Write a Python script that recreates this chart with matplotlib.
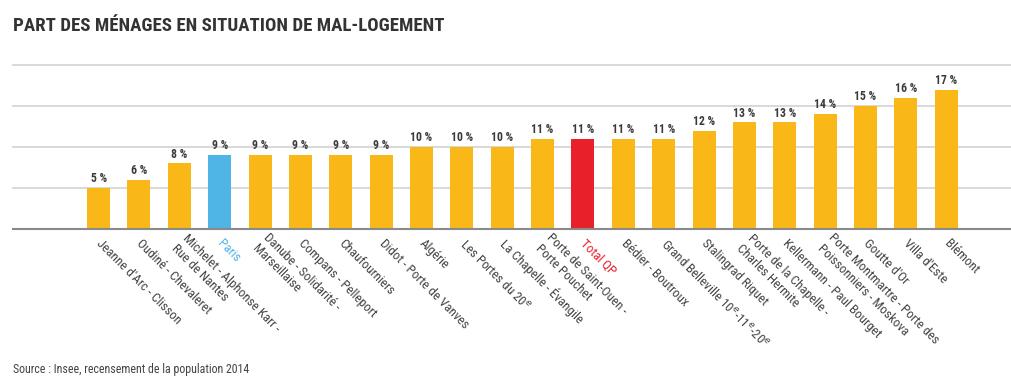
import matplotlib
matplotlib.use("Agg")
import matplotlib.pyplot as plt

plt.rcParams['font.family'] = ['Roboto Condensed', 'Roboto', 'DejaVu Sans']

quartiers = [
    "Jeanne d'Arc - Clisson",
    "Oudiné - Chevaleret",
    "Michelet - Alphonse Karr -\nRue de Nantes",
    "Paris",
    "Danube - Solidarité -\nMarseillaise",
    "Compans - Pelleport",
    "Chaufourniers",
    "Didot - Porte de Vanves",
    "Algérie",
    "Les Portes du 20$^{e}$",
    "La Chapelle - Évangile",
    "Porte de Saint-Ouen -\nPorte Pouchet",
    "Total QP",
    "Bédier - Boutroux",
    "Grand Belleville 10$^{e}$-11$^{e}$-20$^{e}$",
    "Stalingrad Riquet",
    "Porte de la Chapelle -\nCharles Hermite",
    "Kellermann - Paul Bourget",
    "Porte Montmartre - Porte des\nPoissonniers - Moskova",
    "Goutte d'Or",
    "Villa d'Este",
    "Blémont",
]
part = [5, 6, 8, 9, 9, 9, 9, 9, 10, 10, 10, 11, 11, 11, 11, 12, 13, 13, 14, 15, 16, 17]

orange = '#F9B818'
bleu = '#4FB5E6'
rouge = '#E8202A'

couleurs = []
for q in quartiers:
    if q == "Paris":
        couleurs.append(bleu)
    elif q == "Total QP":
        couleurs.append(rouge)
    else:
        couleurs.append(orange)

fig = plt.figure(figsize=(10.12, 3.82), dpi=100)
ax = fig.add_axes([13/1012, 1 - 229/382, 1 - 13/1012, (229 - 65)/382])

x = list(range(len(part)))
ax.bar(x, part, width=0.57, color=couleurs, zorder=3)

for xi, v in zip(x, part):
    ax.text(xi, v + 0.35, f"{v} %", ha='center', va='bottom', fontsize=8.5,
            fontweight='bold', color='#3a3a3a', zorder=4)

ax.set_ylim(0, 20)
ax.set_xlim(-2.12, 22.63)
ax.set_yticks([5, 10, 15, 20])
ax.yaxis.grid(True, color='#d2d2d2', linewidth=1.2, zorder=0)
for gl in ax.get_ygridlines():
    gl.set_clip_on(False)
ax.tick_params(axis='y', left=False, labelleft=False)
ax.tick_params(axis='x', length=0, pad=9)
for s in ['top', 'right', 'left']:
    ax.spines[s].set_visible(False)
ax.spines['bottom'].set_color('#8a8a8a')
ax.spines['bottom'].set_linewidth(1.5)
ax.spines['bottom'].set_zorder(5)

ax.set_xticks(x)
ax.set_xticklabels(quartiers, rotation=-45, ha='left', va='center',
                   rotation_mode='anchor', fontsize=9.4, color='#444444',
                   linespacing=1.25)
for lbl, c in zip(ax.get_xticklabels(), couleurs):
    if c != orange:
        lbl.set_color(c)

fig.text(13/1012, 1 - 26/382, "PART DES MÉNAGES EN SITUATION DE MAL-LOGEMENT",
         ha='left', va='center', fontsize=13.6, fontweight='bold', color='#333333')
fig.text(13/1012, 1 - 370/382, "Source : Insee, recensement de la population 2014",
         ha='left', va='center', fontsize=8.6, color='#444444')

fig.savefig('out.png', dpi=100)
